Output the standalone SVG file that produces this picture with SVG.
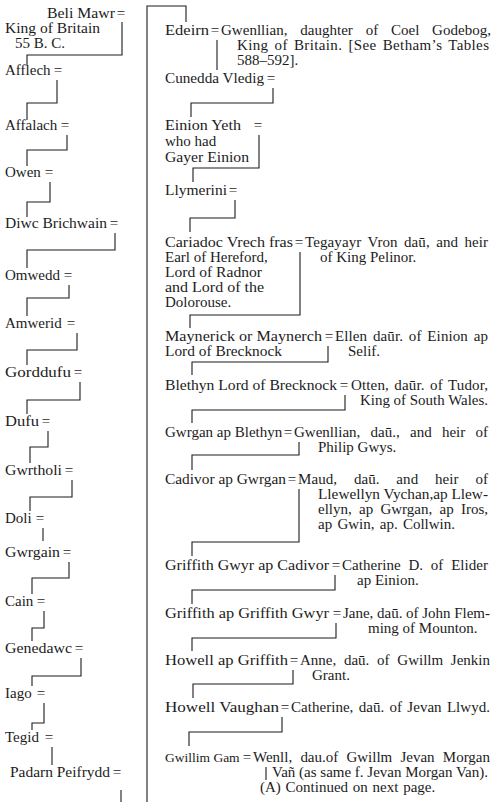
<svg xmlns="http://www.w3.org/2000/svg" width="493" height="802" viewBox="0 0 493 802">
<style>
text{font-family:"Liberation Serif","Times New Roman",serif;font-size:15px;fill:#1c1c1c}
.eq{text-anchor:middle}
#connectors path{fill:none;stroke:#1c1c1c;stroke-width:1.1}
</style>
<rect width="493" height="802" fill="#fff"/>
<g id="connectors">
<path d="M147,802 V6 H186 V22"/>
<path d="M122,22 V55 H27 V65"/>
<path d="M57,80 V103 H27 V120"/>
<path d="M67,135 V150 H27 V166"/>
<path d="M50,182 V202 H27 V217"/>
<path d="M115,233 V250 H27 V268"/>
<path d="M69,285 V298 H27 V316"/>
<path d="M77,333 V350 H27 V365"/>
<path d="M80,382 V400 H27 V414"/>
<path d="M48,431 V447 H30 V463"/>
<path d="M72,480 V497 H30 V511"/>
<path d="M43,528 V541"/>
<path d="M69,562 V578 H32 V594"/>
<path d="M44,611 V628 H32 V641"/>
<path d="M81,658 V676 H32 V686"/>
<path d="M44,703 V723 H32 V730"/>
<path d="M52,747 V765"/>
<path d="M121,790 V802"/>
<path d="M217,40 V70"/>
<path d="M273,88 V103 H191 V117"/>
<path d="M259,135 V168 H193 V182"/>
<path d="M235,200 V218 H190 V232"/>
<path d="M300,252 V315 H190 V328"/>
<path d="M328,346 V362 H192 V375"/>
<path d="M345,395 V410 H192 V423"/>
<path d="M299,442 V455 H192 V470"/>
<path d="M299,489 V542 H192 V556"/>
<path d="M335,575 V590 H192 V604"/>
<path d="M336,623 V638 H192 V651"/>
<path d="M293,670 V684 H193 V698"/>
<path d="M282,717 V732 H189 V746"/>
<path d="M266,767 V780"/>
</g>
<g id="beli"><text x="47" y="18" textLength="68" lengthAdjust="spacingAndGlyphs">Beli Mawr</text><text class="eq" x="121" y="18">=</text><text x="5" y="33" textLength="95" lengthAdjust="spacingAndGlyphs">King of Britain</text><text x="15" y="48">55 B. C.</text></g>
<g id="afflech"><text x="5" y="75">Afflech</text><text class="eq" x="58" y="75">=</text></g>
<g id="affalach"><text x="5" y="130">Affalach</text><text class="eq" x="65" y="130">=</text></g>
<g id="owen"><text x="5" y="177">Owen</text><text class="eq" x="49" y="177">=</text></g>
<g id="diwc"><text x="5" y="228" textLength="102" lengthAdjust="spacingAndGlyphs">Diwc Brichwain</text><text class="eq" x="114" y="228">=</text></g>
<g id="omwedd"><text x="5" y="280">Omwedd</text><text class="eq" x="68" y="280">=</text></g>
<g id="amwerid"><text x="5" y="328">Amwerid</text><text class="eq" x="71" y="328">=</text></g>
<g id="gorddufu"><text x="5" y="377" textLength="66" lengthAdjust="spacingAndGlyphs">Gorddufu</text><text class="eq" x="78" y="377">=</text></g>
<g id="dufu"><text x="5" y="426" textLength="34" lengthAdjust="spacingAndGlyphs">Dufu</text><text class="eq" x="46" y="426">=</text></g>
<g id="gwrtholi"><text x="5" y="475" textLength="57" lengthAdjust="spacingAndGlyphs">Gwrtholi</text><text class="eq" x="69" y="475">=</text></g>
<g id="doli"><text x="5" y="523">Doli</text><text class="eq" x="40" y="523">=</text></g>
<g id="gwrgain"><text x="5" y="557" textLength="55" lengthAdjust="spacingAndGlyphs">Gwrgain</text><text class="eq" x="67" y="557">=</text></g>
<g id="cain"><text x="5" y="606">Cain</text><text class="eq" x="41" y="606">=</text></g>
<g id="genedawc"><text x="5" y="653" textLength="67" lengthAdjust="spacingAndGlyphs">Genedawc</text><text class="eq" x="79" y="653">=</text></g>
<g id="iago"><text x="5" y="698">Iago</text><text class="eq" x="41" y="698">=</text></g>
<g id="tegid"><text x="5" y="742">Tegid</text><text class="eq" x="49" y="742">=</text></g>
<g id="padarn"><text x="10" y="777" textLength="100" lengthAdjust="spacingAndGlyphs">Padarn Peifrydd</text><text class="eq" x="117" y="777">=</text></g>

<g id="edeirn"><text x="165" y="35" textLength="44" lengthAdjust="spacingAndGlyphs">Edeirn</text><text class="eq" x="215" y="35">=</text><text x="221" y="35" style="word-spacing:9px" textLength="270" lengthAdjust="spacing">Gwenllian, daughter of Coel Godebog,</text><text x="237" y="50" style="word-spacing:2px" textLength="252" lengthAdjust="spacing">King of Britain.  [See Betham’s Tables</text><text x="237" y="65">588–592].</text></g>
<g id="cunedda"><text x="165" y="83" textLength="99" lengthAdjust="spacingAndGlyphs">Cunedda Vledig</text><text class="eq" x="271" y="83">=</text></g>
<g id="einion"><text x="165" y="130" textLength="76" lengthAdjust="spacingAndGlyphs">Einion Yeth</text><text class="eq" x="258" y="130">=</text><text x="165" y="146">who had</text><text x="165" y="162" textLength="84" lengthAdjust="spacingAndGlyphs">Gayer Einion</text></g>
<g id="llymerini"><text x="165" y="195" textLength="62" lengthAdjust="spacingAndGlyphs">Llymerini</text><text class="eq" x="233" y="195">=</text></g>
<g id="cariadoc"><text x="165" y="247" textLength="128" lengthAdjust="spacingAndGlyphs">Cariadoc Vrech fras</text><text class="eq" x="299" y="247">=</text><text x="305" y="247" style="word-spacing:2.5px" textLength="183" lengthAdjust="spacing">Tegayayr Vron daū, and heir</text><text x="320" y="262">of King Pelinor.</text><text x="165" y="262">Earl of Hereford,</text><text x="165" y="277" textLength="97" lengthAdjust="spacingAndGlyphs">Lord of Radnor</text><text x="165" y="292" textLength="99" lengthAdjust="spacingAndGlyphs">and Lord of the</text><text x="165" y="307">Dolorouse.</text></g>
<g id="maynerick"><text x="165" y="341" textLength="157" lengthAdjust="spacingAndGlyphs">Maynerick or Maynerch</text><text class="eq" x="329" y="341">=</text><text x="335" y="341" style="word-spacing:2px" textLength="153" lengthAdjust="spacing">Ellen daūr. of Einion ap</text><text x="165" y="356" textLength="117" lengthAdjust="spacingAndGlyphs">Lord of Brecknock</text><text x="348" y="356">Selif.</text></g>
<g id="blethyn"><text x="165" y="390" textLength="172" lengthAdjust="spacingAndGlyphs">Blethyn Lord of Brecknock</text><text class="eq" x="344" y="390">=</text><text x="351" y="390" style="word-spacing:1.5px" textLength="137" lengthAdjust="spacing">Otten, daūr. of Tudor,</text><text x="360" y="405" textLength="128" lengthAdjust="spacingAndGlyphs">King of South Wales.</text></g>
<g id="gwrgan"><text x="165" y="437">Gwrgan ap Blethyn</text><text class="eq" x="288" y="437">=</text><text x="294" y="437" style="word-spacing:6.5px" textLength="194" lengthAdjust="spacing">Gwenllian, daū., and heir of</text><text x="318" y="452">Philip Gwys.</text></g>
<g id="cadivor"><text x="165" y="484" textLength="121" lengthAdjust="spacingAndGlyphs">Cadivor ap Gwrgan</text><text class="eq" x="292" y="484">=</text><text x="298" y="484" style="word-spacing:13px" textLength="190" lengthAdjust="spacing">Maud, daū. and heir of</text><text x="318" y="499" textLength="170" lengthAdjust="spacingAndGlyphs">Llewellyn Vychan,ap Llew-</text><text x="318" y="514" style="word-spacing:3.5px" textLength="170" lengthAdjust="spacing">ellyn, ap Gwrgan, ap Iros,</text><text x="318" y="529" style="word-spacing:1.5px">ap Gwin, ap. Collwin.</text></g>
<g id="griffith-gwyr"><text x="165" y="570" textLength="164" lengthAdjust="spacingAndGlyphs">Griffith Gwyr ap Cadivor</text><text class="eq" x="336" y="570">=</text><text x="342" y="570" style="word-spacing:4px" textLength="146" lengthAdjust="spacing">Catherine D. of Elider</text><text x="357" y="585">ap Einion.</text></g>
<g id="griffith-ap-griffith"><text x="165" y="618" textLength="164" lengthAdjust="spacingAndGlyphs">Griffith ap Griffith Gwyr</text><text class="eq" x="337" y="618">=</text><text x="343" y="618" textLength="147" lengthAdjust="spacing">Jane, daū. of John Flem-</text><text x="368" y="633">ming of Mounton.</text></g>
<g id="howell-ap-griffith"><text x="165" y="665" textLength="123" lengthAdjust="spacingAndGlyphs">Howell ap Griffith</text><text class="eq" x="294" y="665">=</text><text x="300" y="665" style="word-spacing:4px" textLength="190" lengthAdjust="spacing">Anne, daū. of Gwillm Jenkin</text><text x="312" y="680">Grant.</text></g>
<g id="howell-vaughan"><text x="165" y="712" textLength="114" lengthAdjust="spacingAndGlyphs">Howell Vaughan</text><text class="eq" x="285" y="712">=</text><text x="291" y="712" style="word-spacing:1.5px" textLength="199" lengthAdjust="spacing">Catherine, daū. of Jevan Llwyd.</text></g>
<g id="gwillim-gam"><text x="165" y="762" style="font-size:13.5px">Gwillim Gam</text><text class="eq" x="247" y="762">=</text><text x="253" y="762" style="word-spacing:4.5px" textLength="237" lengthAdjust="spacing">Wenll, dau.of Gwillm Jevan Morgan</text><text x="272" y="777" textLength="216" lengthAdjust="spacingAndGlyphs">Vañ (as same f. Jevan Morgan Van).</text><text x="260" y="792" style="word-spacing:1px">(A) Continued on next page.</text></g>
</svg>
